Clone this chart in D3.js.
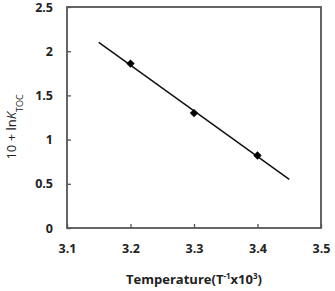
<!DOCTYPE html>
<html>
<head>
<meta charset="utf-8">
<script src="https://cdn.jsdelivr.net/npm/d3@7"></script>
<style>
  body { margin: 0; background: #fff; }
  svg { display: block; }
</style>
</head>
<body>
<svg id="chart" width="335" height="291"></svg>
<script>
// measured points
let invT = [3.2, 3.3, 3.4];
let lnK = [1.86, 1.30, 0.82];

// fitted line ends
let fitX = [3.15, 3.45];
let fitY = [2.10, 0.55];

let xTicks = [3.1, 3.2, 3.3, 3.4, 3.5];
let yTicks = [0, 0.5, 1, 1.5, 2, 2.5];

let svg = d3.select('#chart');
let plotL = 67, plotR = 321, plotT = 7, plotB = 228;

let x = d3.scaleLinear().domain([3.1, 3.5]).range([plotL, plotR]);
let y = d3.scaleLinear().domain([0, 2.5]).range([plotB, plotT]);

let font = "'Open Sans', sans-serif";

// x axis, ticks inside
let xAxis = svg.append('g')
    .attr('transform', `translate(0,${plotB})`)
    .call(d3.axisBottom(x).tickValues(xTicks).tickSizeInner(-4).tickSizeOuter(0).tickPadding(16).tickFormat(d3.format('.1f')));

let yAxis = svg.append('g')
    .attr('transform', `translate(${plotL},0)`)
    .call(d3.axisLeft(y).tickValues(yTicks).tickSizeInner(-4).tickSizeOuter(0).tickPadding(14).tickFormat(d => d));

[xAxis, yAxis].forEach(a => {
    a.select('.domain').remove();
    a.selectAll('line').attr('stroke', '#555').attr('stroke-width', 1.3);
    a.selectAll('text')
        .attr('font-family', font)
        .attr('font-size', 12.5)
        .attr('font-weight', 'bold')
        .attr('fill', '#222');
});

// frame
svg.append('rect')
    .attr('x', plotL)
    .attr('y', plotT)
    .attr('width', plotR - plotL)
    .attr('height', plotB - plotT)
    .attr('fill', 'none')
    .attr('stroke', '#555')
    .attr('stroke-width', 1.8);

// fit line
svg.append('line')
    .attr('x1', x(fitX[0]))
    .attr('y1', y(fitY[0]))
    .attr('x2', x(fitX[1]))
    .attr('y2', y(fitY[1]))
    .attr('stroke', '#111')
    .attr('stroke-width', 1.5);

// diamonds
svg.append('g').selectAll('path')
    .data(invT)
    .join('path')
    .attr('d', d3.symbol(d3.symbolDiamond2, 45))
    .attr('transform', (d, i) => `translate(${x(d)},${y(lnK[i])})`)
    .attr('fill', '#000');

// x title
let xt = svg.append('text')
    .attr('x', (plotL + plotR) / 2)
    .attr('y', 284)
    .attr('text-anchor', 'middle')
    .attr('font-family', font)
    .attr('font-size', 13)
    .attr('font-weight', 'bold')
    .attr('fill', '#222');
xt.append('tspan').text('Temperature(T');
xt.append('tspan').attr('baseline-shift', 'super').attr('font-size', 8).text('-1');
xt.append('tspan').text('x10');
xt.append('tspan').attr('baseline-shift', 'super').attr('font-size', 8).text('3');
xt.append('tspan').text(')');

// y title
let yt = svg.append('text')
    .attr('transform', 'translate(16,127) rotate(-90)')
    .attr('text-anchor', 'middle')
    .attr('font-family', font)
    .attr('font-size', 13)
    .attr('fill', '#222');
yt.append('tspan').text('10 + ln');
yt.append('tspan').attr('font-style', 'italic').text('K');
yt.append('tspan').attr('baseline-shift', 'sub').attr('font-size', 9).text('TOC');
</script>
</body>
</html>
